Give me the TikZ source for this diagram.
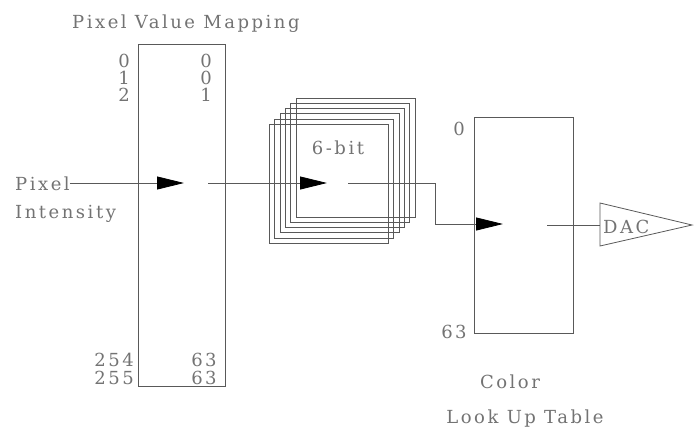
\documentclass[tikz,border=0pt]{standalone}
\usepackage{fontspec}
\setmainfont{DejaVu Serif}[LetterSpace=14]
\usetikzlibrary{arrows.meta}
\definecolor{ink}{gray}{0.35}
\definecolor{txt}{gray}{0.45}
\tikzset{
  lbl/.style={inner sep=0pt, text=txt, font=\fontsize{18}{20}\selectfont},
  box/.style={draw=ink, line width=0.8pt, inner sep=0pt},
  wire/.style={draw=ink, line width=0.8pt},
  tip/.style={-{Triangle[length=27pt,width=13pt,fill=black,color=black]}}
}
\begin{document}
\begin{tikzpicture}[x=1pt,y=-1pt]
\useasboundingbox (0,0) rectangle (700,426);
% title
\node[lbl, anchor=base west] (title) at (72,28) {Pixel Value Mapping};
% pixel value mapping box
\node[box, minimum width=87pt, minimum height=342pt] (pvm) at (181.5,215) {};
\node[lbl, anchor=base east] (l0) at (130,67) {0};
\node[lbl, anchor=base east] (l1) at (130,84) {1};
\node[lbl, anchor=base east] (l2) at (130,101) {2};
\node[lbl, anchor=base east] (l254) at (134,366) {254};
\node[lbl, anchor=base east] (l255) at (134,384) {255};
\node[lbl, anchor=base] (r0) at (206,67) {0};
\node[lbl, anchor=base] (r1) at (206,84) {0};
\node[lbl, anchor=base] (r2) at (206,101) {1};
\node[lbl, anchor=base] (r254) at (204,366) {63};
\node[lbl, anchor=base] (r255) at (204,384) {63};
% input label
\node[lbl, anchor=base west] (pixel) at (15,190) {Pixel};
\node[lbl, anchor=base west] (intensity) at (15,218) {Intensity};
% stacked 6-bit planes
\foreach \i in {0,...,5}{
  \node[box, minimum width=119pt, minimum height=119pt, anchor=north west] (plane\i) at ({269+5.3*\i},{124-5.3*\i}) {};
}
\node[lbl, anchor=base] (sixbit) at (338,154) {6-bit};
% color look up table
\node[box, minimum width=99pt, minimum height=216pt] (lut) at (523.5,225) {};
\node[lbl, anchor=base] (lut0) at (459,135) {0};
\node[lbl, anchor=base] (lut63) at (454,338) {63};
\node[lbl, anchor=base] (color) at (510,388) {Color};
\node[lbl, anchor=base] (lookup) at (525,423) {Look Up Table};
% DAC
\coordinate (dacw) at (600,225);
\coordinate (dact) at (600,203);
\coordinate (dacb) at (600,246);
\coordinate (daca) at (692,225);
\draw[wire, line join=miter] (dact) -- (daca) -- (dacb) -- cycle;
\node[lbl, anchor=base west] (dac) at (603,233) {DAC};
% connectors
\coordinate (t1) at (184,183);
\coordinate (s2) at (208,183);
\coordinate (t2) at (327,183);
\coordinate (s3) at (348,183);
\coordinate (k3) at (435,183);
\coordinate (t3) at (503,224);
\coordinate (s4) at (547,225);
\draw[wire, tip] (pixel.east |- t1) -- (t1);
\draw[wire, tip] (s2) -- (t2);
\draw[wire, tip] (s3) -- (k3) |- (t3);
\draw[wire] (s4) -- (dacw);
\end{tikzpicture}
\end{document}
